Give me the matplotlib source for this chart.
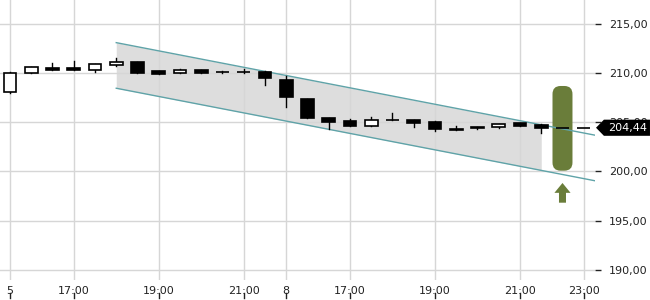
import matplotlib
matplotlib.use("Agg")
import matplotlib.pyplot as plt
import matplotlib.transforms as mtransforms
from matplotlib.patches import Rectangle, Polygon, FancyBboxPatch
from matplotlib.lines import Line2D

# ---- data ----
opens  = [208.04, 210.03, 210.50, 210.50, 210.27, 210.84, 211.15, 210.23, 209.97, 210.30,
          210.13, 210.13, 210.13, 209.29, 207.36, 205.40, 205.13, 204.65, 205.23, 205.23,
          205.03, 204.31, 204.55, 204.55, 204.89, 204.69, 204.42, 204.44]
highs  = [210.10, 210.60, 211.00, 211.20, 210.88, 211.50, 211.15, 210.23, 210.40, 210.30,
          210.23, 210.40, 210.23, 209.70, 207.40, 205.40, 205.30, 205.50, 205.97, 205.23,
          205.16, 204.65, 204.55, 204.82, 204.89, 204.82, 204.42, 204.44]
lows   = [208.00, 210.03, 210.30, 210.30, 210.13, 210.70, 210.03, 209.85, 209.97, 210.03,
          210.03, 210.03, 208.78, 206.58, 205.40, 204.30, 204.65, 204.65, 205.20, 204.50,
          204.14, 204.18, 204.28, 204.39, 204.65, 203.88, 204.40, 204.44]
closes = [209.97, 210.58, 210.30, 210.30, 210.88, 211.12, 210.03, 209.93, 210.30, 210.03,
          210.05, 210.05, 209.52, 207.59, 205.40, 205.06, 204.65, 205.23, 205.20, 204.89,
          204.28, 204.18, 204.39, 204.82, 204.65, 204.39, 204.40, 204.44]

tick_idx = [0, 3, 7, 11, 13, 16, 20, 24, 27]
tick_labels = ["5", "17:00", "19:00", "21:00", "8", "17:00", "19:00", "21:00", "23:00"]
y_ticks = [190, 195, 200, 205, 210, 215]
y_tick_labels = ["190,00", "195,00", "200,00", "205,00", "210,00", "215,00"]

# trend channel
ch_start = 5
ch_fill_end = 25
ch_upper0 = 213.08
ch_lower0 = 208.45
ch_slope = -0.417

# signal
sig_idx = 26
sig_top = 208.68
sig_bottom = 200.08
last_price = 204.44
last_label = "204,44"

# ---- figure ----
fig = plt.figure(figsize=(6.5, 3.0), dpi=100)
ax = fig.add_axes([0.0, 20 / 300, 595 / 650, 280 / 300])
xlim = (-0.47, 27.53)
ax.set_xlim(*xlim)
ax.set_ylim(188.98, 217.41)
for s in ax.spines.values():
    s.set_visible(False)

ax.set_yticks(y_ticks)
ax.set_yticklabels(y_tick_labels)
ax.yaxis.tick_right()
ax.tick_params(axis='y', length=4, width=1, pad=6, colors='#222222', labelsize=8)
ax.set_xticks(tick_idx)
ax.set_xticklabels(tick_labels)
ax.tick_params(axis='x', length=0, pad=4, colors='#222222', labelsize=8)
ax.grid(True, color='#d6d6d6', linewidth=1, zorder=1.5)
ax.set_axisbelow(True)

# channel
xs_line = [ch_start, xlim[1]]
up_line = [ch_upper0 + ch_slope * (x - ch_start) for x in xs_line]
lo_line = [ch_lower0 + ch_slope * (x - ch_start) for x in xs_line]
xs_fill = [ch_start, ch_fill_end]
ax.fill_between(xs_fill,
                [ch_lower0 + ch_slope * (x - ch_start) for x in xs_fill],
                [ch_upper0 + ch_slope * (x - ch_start) for x in xs_fill],
                color='#dddddd', linewidth=0, zorder=0.5)
ax.plot(xs_line, up_line, color='#5fa3a8', linewidth=1, zorder=3)
ax.plot(xs_line, lo_line, color='#5fa3a8', linewidth=1, zorder=3)

# signal bar
green = '#6a7d3a'
bw = 0.94
sig = FancyBboxPatch((sig_idx - bw / 2, sig_bottom), bw, sig_top - sig_bottom,
                     boxstyle="round,pad=0,rounding_size=0.38", mutation_aspect=2.16,
                     facecolor=green, edgecolor='none', zorder=2)
ax.add_patch(sig)
# arrow below
a_top = sig_bottom - 1.25
a_mid = a_top - 1.0
a_bot = a_mid - 1.0
hw, sw = 0.38, 0.165
arrow = Polygon([(sig_idx, a_top), (sig_idx + hw, a_mid), (sig_idx + sw, a_mid),
                 (sig_idx + sw, a_bot), (sig_idx - sw, a_bot), (sig_idx - sw, a_mid),
                 (sig_idx - hw, a_mid)], closed=True, facecolor=green, edgecolor='none', zorder=2)
ax.add_patch(arrow)

# candles
w = 0.6
for i, (o, h, l, c) in enumerate(zip(opens, highs, lows, closes)):
    up = c > o
    ax.add_line(Line2D([i, i], [l, h], color='black', linewidth=1, zorder=4))
    bottom = min(o, c)
    height = max(abs(c - o), 0.02)
    ax.add_patch(Rectangle((i - w / 2, bottom), w, height,
                           facecolor='white' if up else 'black', edgecolor='black',
                           linewidth=1.2, zorder=5))

# bottom tick marks below labels
trans = mtransforms.blended_transform_factory(ax.transData, ax.transAxes)
for t in tick_idx:
    ax.add_line(Line2D([t, t], [-0.048, -0.066], transform=trans, color='#222222',
                       linewidth=1, clip_on=False))

# last price label
ytrans = mtransforms.blended_transform_factory(ax.transAxes, ax.transData)
hh = 0.82
poly = Polygon([(1.0017, last_price), (1.015, last_price + hh), (1.0924, last_price + hh),
                (1.0924, last_price - hh), (1.015, last_price - hh)], closed=True,
               transform=ytrans, facecolor='black', edgecolor='none', clip_on=False, zorder=10)
ax.add_patch(poly)
ax.text(1.054, last_price, last_label, transform=ytrans, color='white', fontsize=8,
        ha='center', va='center', zorder=11, clip_on=False)

# clip x tick labels at right edge (reference cuts the last label)
fig.canvas.draw()
clip_rect = Rectangle((0, 0), 599, 300, transform=mtransforms.IdentityTransform(),
                      facecolor='none', edgecolor='none')
for tk in ax.xaxis.get_major_ticks():
    tk.label1.set_clip_path(clip_rect)
    tk.label1.set_clip_on(True)

fig.savefig("out.png", dpi=100)
